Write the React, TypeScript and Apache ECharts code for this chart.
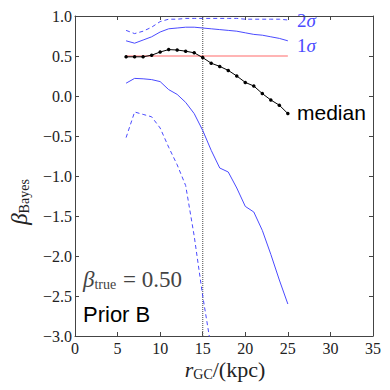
import React, { useEffect, useRef } from "react";
import * as echarts from "echarts";

const radii = [6, 7, 8, 9, 10, 11, 12, 13, 14, 15, 16, 17, 18, 19, 20, 21, 22, 23, 24, 25];
const median = [0.49, 0.49, 0.49, 0.51, 0.55, 0.58, 0.575, 0.56, 0.54, 0.48, 0.41, 0.37, 0.32, 0.25, 0.17, 0.125, 0.03, -0.05, -0.115, -0.22];
const upper1 = [0.69, 0.66, 0.70, 0.74, 0.80, 0.84, 0.85, 0.86, 0.86, 0.85, 0.84, 0.83, 0.82, 0.81, 0.79, 0.77, 0.76, 0.74, 0.72, 0.69];
const upper2 = [0.82, 0.78, 0.81, 0.86, 0.93, 0.96, 0.96, 0.97, 0.97, 0.97, 0.97, 0.97, 0.97, 0.97, 0.96, 0.96, 0.96, 0.96, 0.96, 0.95];
const lower1 = [0.16, 0.22, 0.215, 0.205, 0.18, 0.08, 0.02, -0.08, -0.22, -0.43, -0.68, -0.9, -0.95, -1.15, -1.38, -1.45, -1.68, -1.98, -2.3, -2.6];
const lower2 = [-0.52, -0.2, -0.23, -0.26, -0.4, -0.64, -0.86, -1.12, -1.75, -2.5, -3.15];
const betaTrue = 0.5;
const rSun = 15;
const xTicks = [0, 35, 5];
const yTicks = [-3, 1, 0.5];

const BLUE = "#4b4bff";
const SERIF = "'Liberation Serif', 'DejaVu Serif', serif";
const SANS = "'Liberation Sans', Arial, sans-serif";

const pair = (xs: number[], ys: number[]) => ys.map((y, i) => [xs[i], y]);
const fmt = (v: number) => v.toFixed(1).replace("-", "\u2212");

export default function App() {
  const ref = useRef<HTMLDivElement>(null);
  useEffect(() => {
    const chart = echarts.init(ref.current!, null, { renderer: "svg" });
    const axisCommon = {
      axisLine: { show: true, onZero: false, lineStyle: { color: "#444", width: 1 } },
      axisTick: { show: true, inside: true, length: 4, lineStyle: { color: "#444" } },
      splitLine: { show: false },
    };
    chart.setOption({
      animation: false,
      grid: { left: 75, right: 17, top: 16, bottom: 54 },
      xAxis: [
        {
          type: "value", min: xTicks[0], max: xTicks[1], interval: xTicks[2],
          ...axisCommon,
          axisLabel: { color: "#222", fontFamily: SERIF, fontSize: 16, margin: 4 },
        },
        {
          type: "value", position: "top", min: xTicks[0], max: xTicks[1], interval: xTicks[2],
          ...axisCommon, axisLabel: { show: false },
        },
      ],
      yAxis: [
        {
          type: "value", min: yTicks[0], max: yTicks[1], interval: yTicks[2],
          ...axisCommon,
          axisLabel: { color: "#222", fontFamily: SERIF, fontSize: 16, margin: 3, formatter: fmt },
        },
        {
          type: "value", position: "right", min: yTicks[0], max: yTicks[1], interval: yTicks[2],
          ...axisCommon, axisLabel: { show: false },
        },
      ],
      series: [
        {
          type: "line", data: [[rSun, yTicks[0]], [rSun, yTicks[1]]], symbol: "none",
          lineStyle: { color: "#666", width: 1.2, type: [1, 1] }, z: 1,
        },
        {
          type: "line", data: [[radii[0], betaTrue], [radii[radii.length - 1], betaTrue]], symbol: "none",
          lineStyle: { color: "#ff6b6b", width: 1.2 }, z: 2,
        },
        { type: "line", data: pair(radii, upper2), symbol: "none", lineStyle: { color: BLUE, width: 1, type: [4, 3] } },
        { type: "line", data: pair(radii, upper1), symbol: "none", lineStyle: { color: BLUE, width: 1 } },
        { type: "line", data: pair(radii, lower1), symbol: "none", lineStyle: { color: BLUE, width: 1 } },
        { type: "line", data: pair(radii, lower2), symbol: "none", lineStyle: { color: BLUE, width: 1, type: [4, 3] } },
        {
          type: "line", data: pair(radii, median), symbol: "circle", symbolSize: 3.5,
          itemStyle: { color: "#000" }, lineStyle: { color: "#000", width: 1 }, z: 5,
        },
      ],
      graphic: [
        {
          type: "text", x: 297, y: 20,
          style: {
            text: "{n|2}{g|σ}", textVerticalAlign: "middle",
            rich: { n: { fontFamily: SERIF, fontSize: 19, fill: BLUE }, g: { fontFamily: SERIF, fontStyle: "italic", fontSize: 19, fill: BLUE } },
          },
        },
        {
          type: "text", x: 297, y: 45,
          style: {
            text: "{n|1}{g|σ}", textVerticalAlign: "middle",
            rich: { n: { fontFamily: SERIF, fontSize: 19, fill: BLUE }, g: { fontFamily: SERIF, fontStyle: "italic", fontSize: 19, fill: BLUE } },
          },
        },
        {
          type: "text", x: 297, y: 112,
          style: { text: "median", fontFamily: SANS, fontSize: 21, fill: "#000", textVerticalAlign: "middle" },
        },
        {
          type: "text", x: 83, y: 279,
          style: {
            text: "{b|β}{s|true}{t| = 0.50}", textVerticalAlign: "middle", fill: "#444",
            rich: {
              b: { fontFamily: SERIF, fontStyle: "italic", fontSize: 23, fill: "#444" },
              s: { fontFamily: SERIF, fontSize: 14, fill: "#444", verticalAlign: "bottom", padding: [11, 1, 0, 0] },
              t: { fontFamily: SERIF, fontSize: 23, fill: "#444" },
            },
          },
        },
        {
          type: "text", x: 83, y: 314,
          style: { text: "Prior B", fontFamily: SANS, fontSize: 22, fill: "#000", textVerticalAlign: "middle" },
        },
        {
          type: "text", x: 225, y: 369,
          style: {
            text: "{b|r}{s|GC}{t|/(kpc)}", textAlign: "center", textVerticalAlign: "middle",
            rich: {
              b: { fontFamily: SERIF, fontStyle: "italic", fontSize: 22, fill: "#222" },
              s: { fontFamily: SERIF, fontSize: 14, fill: "#222", verticalAlign: "bottom", padding: [11, 0, 0, 0] },
              t: { fontFamily: SERIF, fontSize: 22, fill: "#222" },
            },
          },
        },
        {
          type: "text", x: 19, y: 202, rotation: Math.PI / 2,
          style: {
            text: "{b|β}{s|Bayes}", textAlign: "center", textVerticalAlign: "middle",
            rich: {
              b: { fontFamily: SERIF, fontStyle: "italic", fontSize: 23, fill: "#222" },
              s: { fontFamily: SERIF, fontSize: 14, fill: "#222", verticalAlign: "bottom", padding: [11, 0, 0, 0] },
            },
          },
        },
      ],
    });
    return () => chart.dispose();
  }, []);
  return <div ref={ref} style={{ width: 390, height: 390, position: "absolute", left: 0, top: 0 }} />;
}
